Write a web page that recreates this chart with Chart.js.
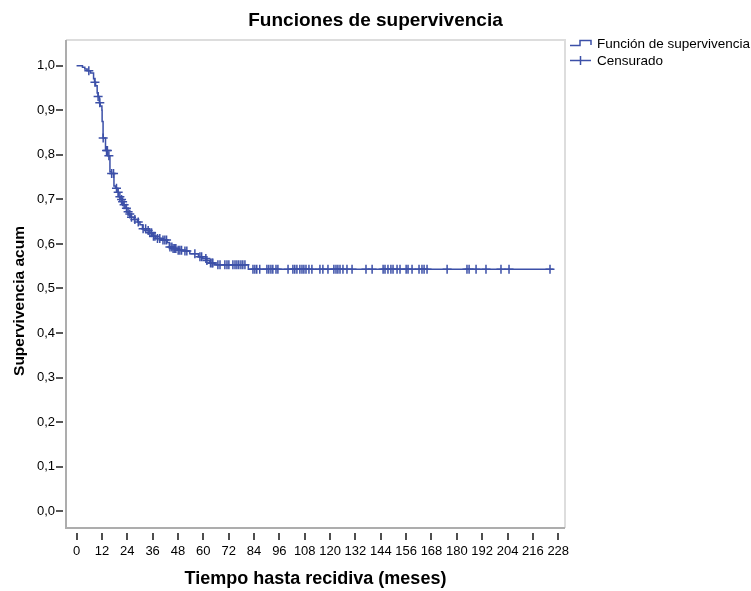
<!DOCTYPE html>
<html><head><meta charset="utf-8">
<script src="https://cdn.jsdelivr.net/npm/chart.js@4.4.0/dist/chart.umd.min.js"></script>
<style>html,body{margin:0;padding:0;background:#fff}#wrap{width:751px;height:591px}</style>
</head><body><div id="wrap"><canvas id="c" width="751" height="591"></canvas></div>
<script>
// ---- data ----
const chartTitle = 'Funciones de supervivencia';
const xTitle = 'Tiempo hasta recidiva (meses)';
const yTitle = 'Supervivencia acum';
const legendLabels = ['Función de supervivencia', 'Censurado'];
const xTickValues = [0,12,24,36,48,60,72,84,96,108,120,132,144,156,168,180,192,204,216,228];
const yTickValues = [0,0.1,0.2,0.3,0.4,0.5,0.6,0.7,0.8,0.9,1.0];

// Kaplan-Meier step function: time of each drop and survival after it
const stepTimes = [0,2.8,3.9,5.0,6.6,8.05,8.5,9.0,9.75,10.2,10.8,11.2,12.0,12.1,12.55,13.7,14.7,15.8,16.5,17.7,18.4,19.2,19.8,20.6,21.4,22.2,23.0,23.8,24.5,25.4,27.2,28.9,30.0,31.2,32.9,34.6,35.8,37.5,40.0,42.9,43.9,45.4,47.9,51.3,53.6,57.7,59.5,61.5,63.1,65.3,81.3,225.7];
const stepSurvival = [1.0,0.997,0.993,0.989,0.984,0.971,0.963,0.955,0.939,0.931,0.917,0.910,0.900,0.875,0.838,0.810,0.798,0.762,0.758,0.730,0.725,0.716,0.706,0.700,0.695,0.688,0.680,0.672,0.667,0.660,0.655,0.649,0.643,0.634,0.630,0.625,0.617,0.612,0.609,0.603,0.593,0.590,0.586,0.584,0.578,0.571,0.567,0.563,0.557,0.553,0.543,0.543];

// censored observations (months)
const censorTimes = [5.8,8.7,10.2,11.0,12.6,14.2,14.6,15.3,16.6,17.5,18.9,19.7,20.5,21.3,21.8,22.5,23.6,24.4,25.2,26.0,27.6,29.2,31.5,32.7,33.9,34.7,35.5,36.4,37.1,38.3,39.4,40.9,41.8,42.6,44.2,45.1,45.7,46.5,47.0,48.1,48.9,49.7,51.3,52.2,56.0,58.4,59.2,61.2,61.7,63.4,64.1,64.5,
 66.9,67.9,70.2,71.2,72.1,74.0,75.0,75.9,76.8,77.8,78.7,79.7,
 83.5,84.4,85.3,86.7,90.1,91.0,92.0,92.9,94.4,95.3,100.1,102.4,103.3,104.3,105.7,106.7,107.6,108.6,110.0,111.4,115.2,116.6,119.0,121.8,122.8,123.7,124.7,126.1,128.0,130.4,137.0,139.9,145.1,146.0,147.4,148.8,149.8,151.7,153.1,156.0,156.9,158.8,162.1,163.5,164.5,165.9,175.4,184.8,185.8,189.1,193.8,200.9,204.7,224.1];

// ---- build datasets ----
const lineColor = '#3c50a8';
const curvePoints = stepTimes.map((t, i) => ({x: t, y: stepSurvival[i]}));
function survivalAt(t) {
  let s = stepSurvival[0];
  for (let i = 0; i < stepTimes.length; i++) { if (stepTimes[i] <= t) s = stepSurvival[i]; }
  return s;
}
const censorPoints = censorTimes.map(t => ({x: t, y: survivalAt(t)}));

const AREA = {left: 66, right: 565, top: 40, bottom: 528};
const W = 751, H = 591;
const FONT = '"Liberation Sans", Arial, sans-serif';

const decor = {
  id: 'decor',
  beforeDatasetsDraw(chart) {
    const {ctx, chartArea: a, scales: {x, y}} = chart;
    ctx.save();
    ctx.lineWidth = 2;
    ctx.strokeStyle = '#dddddd';
    ctx.beginPath();
    ctx.moveTo(a.left, a.top); ctx.lineTo(a.right, a.top); ctx.lineTo(a.right, a.bottom);
    ctx.stroke();
    ctx.strokeStyle = '#adadad';
    ctx.beginPath();
    ctx.moveTo(a.left, a.top); ctx.lineTo(a.left, a.bottom); ctx.lineTo(a.right, a.bottom);
    ctx.stroke();
    ctx.strokeStyle = '#222';
    ctx.lineWidth = 1.6;
    ctx.beginPath();
    y.ticks.forEach(t => { const p = Math.round(y.getPixelForValue(t.value)); ctx.moveTo(a.left - 10, p); ctx.lineTo(a.left - 3, p); });
    x.ticks.forEach(t => { const p = Math.round(x.getPixelForValue(t.value)); ctx.moveTo(p, a.bottom + 5); ctx.lineTo(p, a.bottom + 12); });
    ctx.stroke();
    ctx.restore();
  },
  afterDraw(chart) {
    const {ctx, chartArea: a} = chart;
    ctx.save();
    ctx.fillStyle = '#000';
    ctx.font = 'bold 19px ' + FONT;
    ctx.textAlign = 'center'; ctx.textBaseline = 'middle';
    ctx.fillText(chartTitle, W / 2, 21);
    // y axis title
    ctx.save();
    ctx.translate(20, 301);
    ctx.rotate(-Math.PI / 2);
    ctx.font = 'bold 15.5px ' + FONT;
    ctx.fillText(yTitle, 0, 0);
    ctx.restore();
    // legend
    const lx = a.right + 5;
    ctx.strokeStyle = lineColor; ctx.lineWidth = 1.5;
    ctx.beginPath();
    ctx.moveTo(lx, 45.5); ctx.lineTo(lx + 10, 45.5); ctx.lineTo(lx + 10, 40.5); ctx.lineTo(lx + 21, 40.5); ctx.lineTo(lx + 21, 45);
    ctx.moveTo(lx, 60.5); ctx.lineTo(lx + 21, 60.5);
    ctx.moveTo(lx + 10.5, 56); ctx.lineTo(lx + 10.5, 65);
    ctx.stroke();
    ctx.font = '13.5px ' + FONT;
    ctx.textAlign = 'left';
    ctx.fillText(legendLabels[0], lx + 27, 44.5);
    ctx.fillText(legendLabels[1], lx + 27, 61);
    ctx.restore();
  }
};

new Chart(document.getElementById('c'), {
  type: 'scatter',
  data: {
    datasets: [
      {label: legendLabels[0], data: curvePoints, showLine: true, stepped: 'before', borderColor: lineColor, borderWidth: 1.5, pointRadius: 0, fill: false},
      {label: legendLabels[1], data: censorPoints, showLine: false, pointStyle: 'cross', pointRadius: 4.5, borderColor: lineColor, borderWidth: 1.5, pointHoverRadius: 4.5}
    ]
  },
  options: {
    responsive: false, animation: false, devicePixelRatio: 1,
    layout: {padding: {left: 0, top: AREA.top, right: W - AREA.right, bottom: 0}},
    plugins: {legend: {display: false}, title: {display: false}, tooltip: {enabled: false}},
    scales: {
      x: {
        type: 'linear', min: -5.0, max: 231.2,
        afterBuildTicks: s => { s.ticks = xTickValues.map(v => ({value: v})); },
        afterFit: s => { s.height = H - AREA.bottom; },
        border: {display: false},
        grid: {display: true, drawOnChartArea: false, drawTicks: true, tickLength: 10, color: 'rgba(0,0,0,0)'},
        ticks: {padding: 6, color: '#000', font: {family: FONT, size: 13}, maxRotation: 0, autoSkip: false,
                callback: v => String(v)},
        title: {display: true, text: xTitle, color: '#000', font: {family: FONT, size: 18, weight: 'bold'}, padding: {top: 0, bottom: 1}}
      },
      y: {
        type: 'linear', min: -0.038, max: 1.058,
        afterBuildTicks: s => { s.ticks = yTickValues.map(v => ({value: v})); },
        afterFit: s => { s.width = AREA.left; },
        border: {display: false},
        grid: {display: true, drawOnChartArea: false, drawTicks: true, tickLength: 8, color: 'rgba(0,0,0,0)'},
        ticks: {padding: 3, color: '#000', font: {family: FONT, size: 13}, autoSkip: false,
                callback: v => v.toFixed(1).replace('.', ',')},
        title: {display: false}
      }
    }
  },
  plugins: [decor]
});
</script></body></html>
